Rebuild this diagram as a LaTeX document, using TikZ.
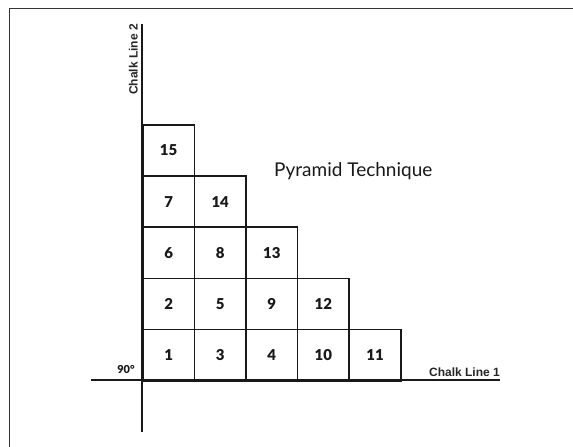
\documentclass[tikz,border=0pt]{standalone}
\usepackage{fontspec}
\setmainfont{Lato}
\newfontfamily\numf{Lato Black}
\newfontfamily\titlef{Lato}
\newfontfamily\arialf{Liberation Sans}
\begin{document}
\begin{tikzpicture}[x=1pt,y=-1pt,
  cell/.style={draw=black!90,line width=1.6pt,minimum width=51.6pt,minimum height=51.2pt,
    anchor=north west,inner sep=0pt,font=\numf\fontsize{15}{15}\selectfont,text=black!90},
  axis/.style={draw=black!90,line width=1.4pt},
  frameline/.style={draw=black!80,line width=1pt},
  chalk/.style={font=\arialf\bfseries\fontsize{12}{12}\selectfont,text=black!85,inner sep=0pt}]
\useasboundingbox (0,0) rectangle (573,447);
\draw[frameline] (9,447) -- (9,8) -- (573,8);
% cells: columns x = 142 + 51.6 i, rows top y = 328.8 - 51.2 j
\node[cell] (c1)  at (142,328.8) {1};
\node[cell] (c3)  at (193.6,328.8) {3};
\node[cell] (c4)  at (245.2,328.8) {4};
\node[cell] (c10) at (296.8,328.8) {10};
\node[cell] (c11) at (348.4,328.8) {11};
\node[cell] (c2)  at (142,277.6) {2};
\node[cell] (c5)  at (193.6,277.6) {5};
\node[cell] (c9)  at (245.2,277.6) {9};
\node[cell] (c12) at (296.8,277.6) {12};
\node[cell] (c6)  at (142,226.4) {6};
\node[cell] (c8)  at (193.6,226.4) {8};
\node[cell] (c13) at (245.2,226.4) {13};
\node[cell] (c7)  at (142,175.2) {7};
\node[cell] (c14) at (193.6,175.2) {14};
\node[cell] (c15) at (142,124) {15};
% axes
\coordinate (hl) at (91,380);
\coordinate (hr) at (500,380);
\coordinate (vt) at (142,24);
\coordinate (vb) at (142,432);
\draw[axis] (hl) -- (hr);
\draw[axis] (vt) -- (vb);
% labels
\node[chalk,anchor=base east] (cl1) at (500,376.5) {Chalk Line 1};
\node[chalk,rotate=90,anchor=base east] (cl2) at (137.5,24) {Chalk Line 2};
\node[font=\numf\fontsize{11}{11}\selectfont,text=black!90,inner sep=0pt,anchor=base] (deg) at (126,373) {90°};
\node[font=\titlef\fontsize{19}{19}\selectfont,text=black!90,inner sep=0pt,anchor=base west] (title) at (274,176) {Pyramid Technique};
\end{tikzpicture}
\end{document}
